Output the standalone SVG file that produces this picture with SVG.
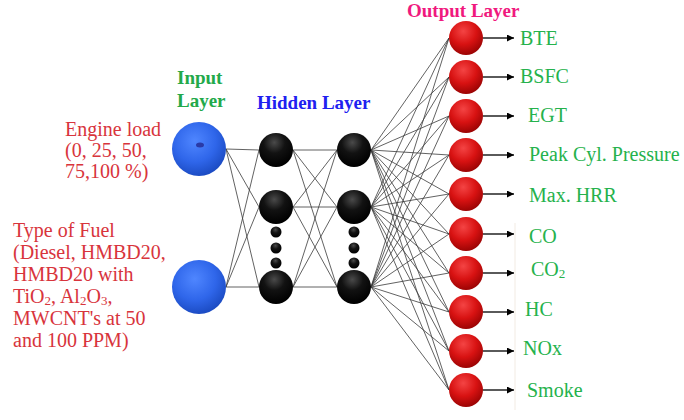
<svg xmlns="http://www.w3.org/2000/svg" width="684" height="420" viewBox="0 0 684 420">
<defs>
<radialGradient id="gBlue" cx="0.42" cy="0.35" r="0.65">
<stop offset="0" stop-color="#4f86ff"/>
<stop offset="0.6" stop-color="#2f66ea"/>
<stop offset="1" stop-color="#1c4cc4"/>
</radialGradient>
<radialGradient id="gBlack" cx="0.45" cy="0.28" r="0.7">
<stop offset="0" stop-color="#4a4a4a"/>
<stop offset="0.45" stop-color="#121212"/>
<stop offset="1" stop-color="#000"/>
</radialGradient>
<radialGradient id="gRed" cx="0.42" cy="0.3" r="0.7">
<stop offset="0" stop-color="#f44444"/>
<stop offset="0.55" stop-color="#d81212"/>
<stop offset="1" stop-color="#9c0404"/>
</radialGradient>
<marker id="arr" viewBox="0 0 10 10" refX="10" refY="5" markerWidth="7" markerHeight="7" markerUnits="userSpaceOnUse" orient="auto">
<path d="M0,0 L10,5 L0,10 z" fill="#000"/>
</marker>
<style>
.ln{stroke:#3a3a3a;stroke-width:0.8;fill:none}
.ar{stroke:#000;stroke-width:1.3;fill:none}
.in{fill:url(#gBlue)}
.hd{fill:url(#gBlack)}
.ot{fill:url(#gRed)}
.red{font-family:"Liberation Serif","Times New Roman",serif;font-size:20px;fill:#d8343c}
.grn{font-family:"Liberation Serif","Times New Roman",serif;font-size:20px;fill:#25b24c}
.ttl{font-family:"Liberation Serif","Times New Roman",serif;font-size:19px;font-weight:bold}
</style>
</defs>
<rect width="684" height="420" fill="#fff"/>

<line x1="515" y1="223" x2="515" y2="410" stroke="#f2ebe3" stroke-width="1"/>

<g id="connectors">
<path class="ln" d="M226,149 L259,150 M226,149 L259,207 M226,149 L259,287 M226,287 L259,150 M226,287 L259,207 M226,287 L259,287"/>
<path class="ln" d="M293,150 L337,150 M293,150 L337,207 M293,150 L337,287 M293,207 L337,150 M293,207 L337,207 M293,207 L337,287 M293,287 L337,150 M293,287 L337,207 M293,287 L337,287"/>
<path class="ln" d="M371,150 L449,38 M371,150 L449,77 M371,150 L449,116 M371,150 L449,155 M371,150 L449,194 M371,150 L449,234 M371,150 L449,273 M371,150 L449,312 M371,150 L449,351 M371,150 L449,390"/>
<path class="ln" d="M371,207 L449,38 M371,207 L449,77 M371,207 L449,116 M371,207 L449,155 M371,207 L449,194 M371,207 L449,234 M371,207 L449,273 M371,207 L449,312 M371,207 L449,351 M371,207 L449,390"/>
<path class="ln" d="M371,287 L449,38 M371,287 L449,77 M371,287 L449,116 M371,287 L449,155 M371,287 L449,194 M371,287 L449,234 M371,287 L449,273 M371,287 L449,312 M371,287 L449,351 M371,287 L449,390"/>
<line class="ar" x1="483" y1="38" x2="514" y2="38" marker-end="url(#arr)"/>
<line class="ar" x1="483" y1="77" x2="514" y2="77" marker-end="url(#arr)"/>
<line class="ar" x1="483" y1="116" x2="514" y2="116" marker-end="url(#arr)"/>
<line class="ar" x1="483" y1="155" x2="514" y2="155" marker-end="url(#arr)"/>
<line class="ar" x1="483" y1="194" x2="514" y2="194" marker-end="url(#arr)"/>
<line class="ar" x1="483" y1="234" x2="514" y2="234" marker-end="url(#arr)"/>
<line class="ar" x1="483" y1="273" x2="514" y2="273" marker-end="url(#arr)"/>
<line class="ar" x1="483" y1="312" x2="514" y2="312" marker-end="url(#arr)"/>
<line class="ar" x1="483" y1="351" x2="514" y2="351" marker-end="url(#arr)"/>
<line class="ar" x1="483" y1="390" x2="514" y2="390" marker-end="url(#arr)"/>
</g>

<g id="titles">
<text class="ttl" x="177" y="84" fill="#22a94a">Input</text>
<text class="ttl" x="177" y="107" fill="#22a94a">Layer</text>
<text class="ttl" x="257" y="109" fill="#2020f0">Hidden Layer</text>
<text class="ttl" x="407" y="17" fill="#f0197e">Output Layer</text>
</g>

<g id="input-labels">
<text class="red" x="65" y="136">Engine load</text>
<text class="red" x="65" y="157">(0, 25, 50,</text>
<text class="red" x="65" y="178">75,100 %)</text>
<text class="red" x="13" y="237">Type of Fuel</text>
<text class="red" x="13" y="259">(Diesel, HMBD20,</text>
<text class="red" x="13" y="281">HMBD20 with</text>
<text class="red" x="13" y="303">TiO<tspan font-size="13" dy="2">2</tspan><tspan dy="-2">, Al</tspan><tspan font-size="13" dy="2">2</tspan><tspan dy="-2">O</tspan><tspan font-size="13" dy="2">3</tspan><tspan dy="-2">,</tspan></text>
<text class="red" x="13" y="325">MWCNT's at 50</text>
<text class="red" x="13" y="347">and 100 PPM)</text>
</g>

<g id="in1"><circle class="in" cx="199" cy="149" r="27"/><ellipse cx="200" cy="145" rx="4" ry="2.5" fill="#2a3aa6"/></g>
<g id="in2"><circle class="in" cx="199" cy="287" r="27"/></g>

<g id="h1a"><circle class="hd" cx="276" cy="150" r="17"/></g>
<g id="h1b"><circle class="hd" cx="276" cy="207" r="17"/></g>
<g id="h1dots"><circle class="hd" cx="276" cy="232" r="5.5"/><circle class="hd" cx="276" cy="248" r="5.5"/><circle class="hd" cx="276" cy="263" r="5.5"/></g>
<g id="h1c"><circle class="hd" cx="276" cy="287" r="17"/></g>

<g id="h2a"><circle class="hd" cx="354" cy="150" r="17"/></g>
<g id="h2b"><circle class="hd" cx="354" cy="207" r="17"/></g>
<g id="h2dots"><circle class="hd" cx="354" cy="232" r="5.5"/><circle class="hd" cx="354" cy="248" r="5.5"/><circle class="hd" cx="354" cy="263" r="5.5"/></g>
<g id="h2c"><circle class="hd" cx="354" cy="287" r="17"/></g>

<g id="o1"><circle class="ot" cx="466" cy="38" r="17"/><text class="grn" x="520" y="45">BTE</text></g>
<g id="o2"><circle class="ot" cx="466" cy="77" r="17"/><text class="grn" x="520" y="83">BSFC</text></g>
<g id="o3"><circle class="ot" cx="466" cy="116" r="17"/><text class="grn" x="528" y="122">EGT</text></g>
<g id="o4"><circle class="ot" cx="466" cy="155" r="17"/><text class="grn" x="529" y="161">Peak Cyl. Pressure</text></g>
<g id="o5"><circle class="ot" cx="466" cy="194" r="17"/><text class="grn" x="529" y="202">Max. HRR</text></g>
<g id="o6"><circle class="ot" cx="466" cy="234" r="17"/><text class="grn" x="529" y="243">CO</text></g>
<g id="o7"><circle class="ot" cx="466" cy="273" r="17"/><text class="grn" x="531" y="276">CO<tspan font-size="13" dy="2">2</tspan></text></g>
<g id="o8"><circle class="ot" cx="466" cy="312" r="17"/><text class="grn" x="525" y="316">HC</text></g>
<g id="o9"><circle class="ot" cx="466" cy="351" r="17"/><text class="grn" x="523" y="355">NOx</text></g>
<g id="o10"><circle class="ot" cx="466" cy="390" r="17"/><text class="grn" x="527" y="397">Smoke</text></g>
</svg>
